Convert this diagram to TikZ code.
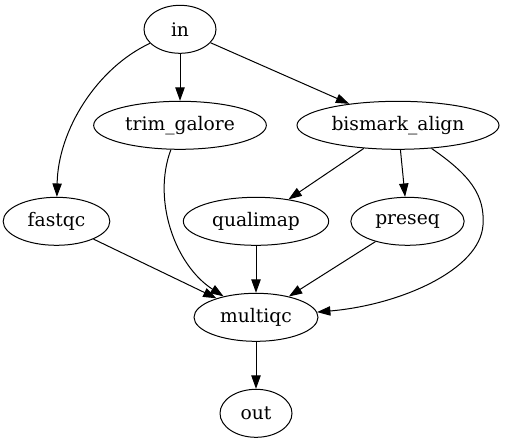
\documentclass[tikz,border=0pt]{standalone}
\usepackage{fontspec}
\setmainfont{DejaVu Serif}
\usetikzlibrary{shapes.geometric,arrows.meta}
\tikzset{
  gnode/.style={ellipse,draw,line width=0.75pt,inner sep=0pt,minimum height=36pt,font=\fontsize{14pt}{16pt}\selectfont},
  gedge/.style={draw,line width=0.75pt,-{Triangle[length=10pt,width=7pt]}}
}
\begin{document}
\begin{tikzpicture}[x=0.75pt,y=-0.75pt]
\useasboundingbox (0,0) rectangle (505,443);
\node[gnode,minimum width=54pt] (in) at (180,29.3) {in};
\node[gnode,minimum width=129.5pt] (trim) at (180,125.3) {trim\_galore};
\node[gnode,minimum width=151.5pt] (bis) at (398,125.3) {bismark\_align};
\node[gnode,minimum width=80pt] (fastqc) at (56.5,221.3) {fastqc};
\node[gnode,minimum width=109pt] (quali) at (256,221.3) {qualimap};
\node[gnode,minimum width=85pt] (preseq) at (407.5,221.3) {preseq};
\node[gnode,minimum width=93pt] (multi) at (256,317.3) {multiqc};
\node[gnode,minimum width=54pt] (out) at (256,413.3) {out};

\path[gedge] (in) -- (trim);
\path[gedge] (in) .. controls (97,68) and (58,130) .. (fastqc);
\path[gedge] (in) -- (bis);
\path[gedge] (trim) .. controls (152,200) and (175,265) .. (multi);
\path[gedge] (bis) -- (quali);
\path[gedge] (bis) -- (preseq);
\coordinate (bend) at (483,225);
\path[gedge] (bis) .. controls (470,175) and (485,195) .. (bend) .. controls (480,270) and (400,305) .. (multi);
\path[gedge] (fastqc) -- (multi);
\path[gedge] (quali) -- (multi);
\path[gedge] (preseq) -- (multi);
\path[gedge] (multi) -- (out);
\end{tikzpicture}
\end{document}
